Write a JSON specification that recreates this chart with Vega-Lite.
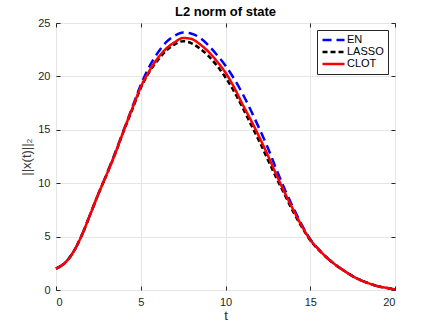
{
  "$schema": "https://vega.github.io/schema/vega-lite/v6.json",
  "autosize": {"type": "none"},
  "width": 339,
  "height": 267,
  "padding": {"left": 56, "top": 23, "right": 41, "bottom": 37},
  "background": "white",
  "title": {"text": "L2 norm of state", "font": "Liberation Sans", "fontSize": 13, "fontWeight": "bold", "color": "#000000", "offset": 2, "dy": 4},
  "config": {
    "view": {"stroke": "#262626", "strokeWidth": 1},
    "font": "Liberation Sans"
  },
  "data": {"values": [
    {"t": 0, "s": "EN", "v": 2.0}, {"t": 0.5, "s": "EN", "v": 2.5}, {"t": 1, "s": "EN", "v": 3.5}, {"t": 1.5, "s": "EN", "v": 5.05}, {"t": 2, "s": "EN", "v": 7.0}, {"t": 2.5, "s": "EN", "v": 9.0}, {"t": 3, "s": "EN", "v": 10.9}, {"t": 3.5, "s": "EN", "v": 12.9}, {"t": 4, "s": "EN", "v": 15.0}, {"t": 4.5, "s": "EN", "v": 17.1}, {"t": 5, "s": "EN", "v": 19.2}, {"t": 5.5, "s": "EN", "v": 20.9}, {"t": 6, "s": "EN", "v": 22.2}, {"t": 6.5, "s": "EN", "v": 23.2}, {"t": 7, "s": "EN", "v": 23.8}, {"t": 7.5, "s": "EN", "v": 24.1}, {"t": 8, "s": "EN", "v": 24.0}, {"t": 8.5, "s": "EN", "v": 23.6}, {"t": 9, "s": "EN", "v": 22.9}, {"t": 9.5, "s": "EN", "v": 22.0}, {"t": 10, "s": "EN", "v": 21.0}, {"t": 10.5, "s": "EN", "v": 19.8}, {"t": 11, "s": "EN", "v": 18.4}, {"t": 11.5, "s": "EN", "v": 16.8}, {"t": 12, "s": "EN", "v": 15.1}, {"t": 12.5, "s": "EN", "v": 13.3}, {"t": 13, "s": "EN", "v": 11.3}, {"t": 13.5, "s": "EN", "v": 9.4}, {"t": 14, "s": "EN", "v": 7.7}, {"t": 14.5, "s": "EN", "v": 6.1}, {"t": 15, "s": "EN", "v": 4.75}, {"t": 15.5, "s": "EN", "v": 3.8}, {"t": 16, "s": "EN", "v": 3.0}, {"t": 16.5, "s": "EN", "v": 2.35}, {"t": 17, "s": "EN", "v": 1.8}, {"t": 17.5, "s": "EN", "v": 1.3}, {"t": 18, "s": "EN", "v": 0.9}, {"t": 18.5, "s": "EN", "v": 0.6}, {"t": 19, "s": "EN", "v": 0.35}, {"t": 19.5, "s": "EN", "v": 0.2}, {"t": 20, "s": "EN", "v": 0.05},
    {"t": 0, "s": "LASSO", "v": 2.0}, {"t": 0.5, "s": "LASSO", "v": 2.5}, {"t": 1, "s": "LASSO", "v": 3.5}, {"t": 1.5, "s": "LASSO", "v": 5.05}, {"t": 2, "s": "LASSO", "v": 7.0}, {"t": 2.5, "s": "LASSO", "v": 9.0}, {"t": 3, "s": "LASSO", "v": 10.85}, {"t": 3.5, "s": "LASSO", "v": 12.8}, {"t": 4, "s": "LASSO", "v": 14.9}, {"t": 4.5, "s": "LASSO", "v": 16.9}, {"t": 5, "s": "LASSO", "v": 18.9}, {"t": 5.5, "s": "LASSO", "v": 20.4}, {"t": 6, "s": "LASSO", "v": 21.5}, {"t": 6.5, "s": "LASSO", "v": 22.4}, {"t": 7, "s": "LASSO", "v": 23.0}, {"t": 7.5, "s": "LASSO", "v": 23.3}, {"t": 8, "s": "LASSO", "v": 23.1}, {"t": 8.5, "s": "LASSO", "v": 22.6}, {"t": 9, "s": "LASSO", "v": 21.9}, {"t": 9.5, "s": "LASSO", "v": 21.0}, {"t": 10, "s": "LASSO", "v": 19.9}, {"t": 10.5, "s": "LASSO", "v": 18.6}, {"t": 11, "s": "LASSO", "v": 17.1}, {"t": 11.5, "s": "LASSO", "v": 15.5}, {"t": 12, "s": "LASSO", "v": 13.9}, {"t": 12.5, "s": "LASSO", "v": 12.2}, {"t": 13, "s": "LASSO", "v": 10.5}, {"t": 13.5, "s": "LASSO", "v": 8.9}, {"t": 14, "s": "LASSO", "v": 7.3}, {"t": 14.5, "s": "LASSO", "v": 5.9}, {"t": 15, "s": "LASSO", "v": 4.65}, {"t": 15.5, "s": "LASSO", "v": 3.75}, {"t": 16, "s": "LASSO", "v": 3.0}, {"t": 16.5, "s": "LASSO", "v": 2.35}, {"t": 17, "s": "LASSO", "v": 1.8}, {"t": 17.5, "s": "LASSO", "v": 1.3}, {"t": 18, "s": "LASSO", "v": 0.9}, {"t": 18.5, "s": "LASSO", "v": 0.6}, {"t": 19, "s": "LASSO", "v": 0.35}, {"t": 19.5, "s": "LASSO", "v": 0.2}, {"t": 20, "s": "LASSO", "v": 0.05},
    {"t": 0, "s": "CLOT", "v": 2.0}, {"t": 0.5, "s": "CLOT", "v": 2.5}, {"t": 1, "s": "CLOT", "v": 3.5}, {"t": 1.5, "s": "CLOT", "v": 5.05}, {"t": 2, "s": "CLOT", "v": 7.0}, {"t": 2.5, "s": "CLOT", "v": 9.0}, {"t": 3, "s": "CLOT", "v": 10.85}, {"t": 3.5, "s": "CLOT", "v": 12.8}, {"t": 4, "s": "CLOT", "v": 14.95}, {"t": 4.5, "s": "CLOT", "v": 17.0}, {"t": 5, "s": "CLOT", "v": 19.0}, {"t": 5.5, "s": "CLOT", "v": 20.5}, {"t": 6, "s": "CLOT", "v": 21.7}, {"t": 6.5, "s": "CLOT", "v": 22.6}, {"t": 7, "s": "CLOT", "v": 23.2}, {"t": 7.5, "s": "CLOT", "v": 23.6}, {"t": 8, "s": "CLOT", "v": 23.5}, {"t": 8.5, "s": "CLOT", "v": 23.0}, {"t": 9, "s": "CLOT", "v": 22.3}, {"t": 9.5, "s": "CLOT", "v": 21.4}, {"t": 10, "s": "CLOT", "v": 20.35}, {"t": 10.5, "s": "CLOT", "v": 19.0}, {"t": 11, "s": "CLOT", "v": 17.4}, {"t": 11.5, "s": "CLOT", "v": 15.9}, {"t": 12, "s": "CLOT", "v": 14.3}, {"t": 12.5, "s": "CLOT", "v": 12.6}, {"t": 13, "s": "CLOT", "v": 10.8}, {"t": 13.5, "s": "CLOT", "v": 9.1}, {"t": 14, "s": "CLOT", "v": 7.5}, {"t": 14.5, "s": "CLOT", "v": 6.0}, {"t": 15, "s": "CLOT", "v": 4.7}, {"t": 15.5, "s": "CLOT", "v": 3.8}, {"t": 16, "s": "CLOT", "v": 3.0}, {"t": 16.5, "s": "CLOT", "v": 2.35}, {"t": 17, "s": "CLOT", "v": 1.8}, {"t": 17.5, "s": "CLOT", "v": 1.3}, {"t": 18, "s": "CLOT", "v": 0.9}, {"t": 18.5, "s": "CLOT", "v": 0.6}, {"t": 19, "s": "CLOT", "v": 0.35}, {"t": 19.5, "s": "CLOT", "v": 0.2}, {"t": 20, "s": "CLOT", "v": 0.05}
  ]},
  "layer": [
    {
      "mark": {"type": "line", "opacity": 0},
      "encoding": {
        "x": {"field": "t", "type": "quantitative", "scale": {"domain": [0, 20], "nice": false},
          "axis": {"orient": "top", "title": null, "values": [0, 5, 10, 15, 20], "grid": false, "domain": false, "labels": false,
            "tickSize": -4, "tickColor": "#262626"}},
        "y": {"field": "v", "type": "quantitative", "scale": {"domain": [0, 25], "nice": false},
          "axis": {"orient": "right", "title": null, "values": [0, 5, 10, 15, 20, 25], "grid": false, "domain": false, "labels": false,
            "tickSize": -4, "tickColor": "#262626"}}
      }
    },
    {
      "mark": {"type": "line", "strokeWidth": 2.5, "interpolate": "monotone"},
      "encoding": {
        "x": {"field": "t", "type": "quantitative", "scale": {"domain": [0, 20], "nice": false},
          "axis": {"orient": "bottom", "title": "t", "values": [0, 5, 10, 15, 20], "grid": true, "gridColor": "#e6e6e6", "domain": false,
            "tickSize": -4, "tickColor": "#262626", "labelPadding": 10, "labelFont": "Liberation Sans", "labelFontSize": 11, "labelColor": "#262626",
            "titleFont": "Liberation Sans", "titleFontSize": 13, "titleFontWeight": "normal", "titleColor": "#262626", "titlePadding": 2}},
        "y": {"field": "v", "type": "quantitative", "scale": {"domain": [0, 25], "nice": false},
          "axis": {"orient": "left", "title": "||x(t)||₂", "values": [0, 5, 10, 15, 20, 25], "grid": true, "gridColor": "#e6e6e6", "domain": false,
            "tickSize": -4, "tickColor": "#262626", "labelPadding": 10, "labelFont": "Liberation Sans", "labelFontSize": 11, "labelColor": "#262626",
            "titleFont": "Liberation Sans", "titleFontSize": 13, "titleFontWeight": "normal", "titleColor": "#404040", "titlePadding": 4}},
        "color": {"field": "s", "type": "nominal", "scale": {"domain": ["EN", "LASSO", "CLOT"], "range": ["#0000ff", "#000000", "#ff0000"]},
          "legend": {"title": null, "orient": "top-right", "offset": 7, "fillColor": "white", "strokeColor": "#262626", "padding": 4,
            "symbolType": "stroke", "symbolSize": 484, "symbolStrokeWidth": 2.5, "rowPadding": 0, "clipHeight": 12, "labelFont": "Liberation Sans", "labelFontSize": 11, "labelColor": "#000000", "labelOffset": 1}},
        "strokeDash": {"field": "s", "type": "nominal", "scale": {"domain": ["EN", "LASSO", "CLOT"], "range": [[9, 5], [5, 3], [1, 0]]}, "legend": null}
      }
    }
  ],
  "resolve": {"axis": {"x": "independent", "y": "independent"}}
}
